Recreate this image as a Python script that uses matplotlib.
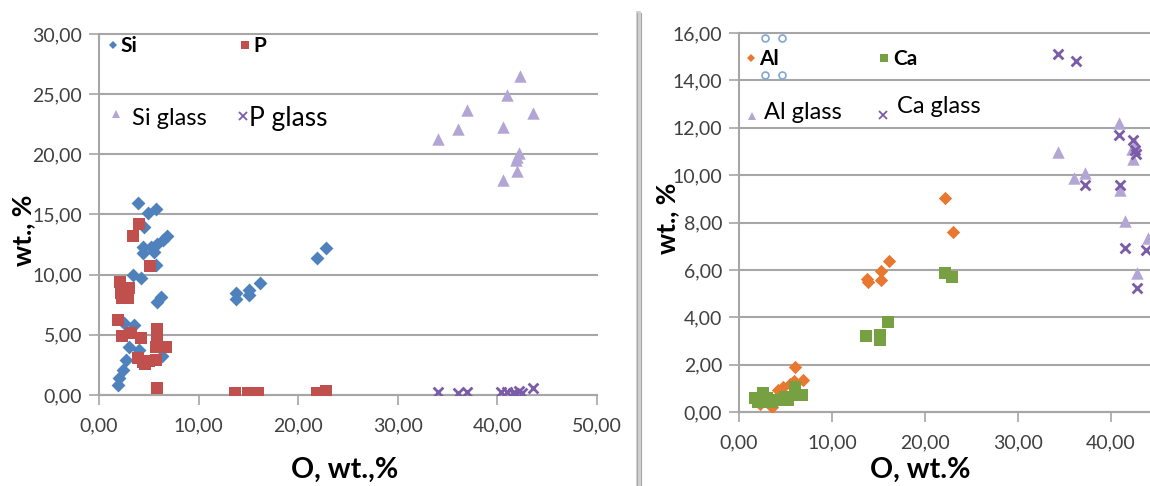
import matplotlib
matplotlib.use('Agg')
import matplotlib.pyplot as plt
from matplotlib.lines import Line2D

plt.rcParams['font.family'] = ['Lato', 'DejaVu Sans']

# ---------------- data (left panel) ----------------
si_x = [3.87, 4.87, 5.7, 4.5, 6.87, 6.4, 5.87, 5.2, 4.37, 4.37, 5.53, 5.7, 3.37, 4.2, 6.2, 5.8,
        2.53, 3.53, 3.03, 4.03, 2.7, 2.37, 2.03, 1.87, 6.37, 13.8, 13.8, 15.03, 15.03, 16.13, 21.93, 22.8]
si_y = [15.93, 15.1, 15.43, 14.0, 13.2, 12.9, 12.55, 12.3, 12.3, 11.8, 11.9, 10.8, 9.97, 9.7, 8.17, 7.76,
        5.96, 5.82, 4.0, 3.74, 2.9, 2.08, 1.38, 0.83, 3.2, 8.45, 7.95, 8.73, 8.3, 9.34, 11.36, 12.25]
p_x = [4.03, 3.43, 5.1, 2.13, 2.97, 2.2, 2.87, 2.3, 1.87, 2.27, 3.2, 4.2, 5.87, 5.8, 5.7, 6.7,
       3.87, 4.37, 5.03, 5.7, 4.6, 5.87, 13.7, 15.0, 15.5, 16.0, 21.9, 22.8]
p_y = [14.2, 13.2, 10.75, 9.42, 8.86, 8.5, 8.03, 8.1, 6.23, 4.9, 5.13, 4.71, 5.46, 4.7, 4.0, 4.0,
       3.05, 2.77, 2.85, 2.91, 2.6, 0.55, 0.14, 0.14, 0.14, 0.14, 0.2, 0.36]
si_glass_x = [42.3, 41.0, 36.9, 43.6, 36.0, 40.6, 34.0, 42.2, 41.97, 41.9, 41.97, 40.6]
si_glass_y = [26.5, 24.9, 23.7, 23.4, 22.1, 22.3, 21.25, 20.1, 19.8, 19.5, 18.6, 17.9]
p_glass_x = [34.0, 36.0, 36.9, 40.4, 41.0, 41.6, 42.2, 41.9, 42.5, 43.6]
p_glass_y = [0.22, 0.14, 0.27, 0.22, 0.25, 0.2, 0.3, 0.1, 0.2, 0.55]

# ---------------- data (right panel) ----------------
al_x = [22.15, 22.97, 16.16, 15.23, 13.8, 13.9, 15.23, 6.02, 6.85, 4.77, 4.2, 5.5, 3.5, 2.3, 5.9]
al_y = [9.02, 7.58, 6.39, 5.97, 5.6, 5.5, 5.57, 1.91, 1.35, 1.07, 0.93, 1.2, 0.22, 0.35, 1.3]
ca_x = [22.15, 22.87, 16.05, 13.7, 15.16, 15.16, 1.72, 2.6, 2.6, 3.5, 4.2, 4.9, 6.0, 6.0, 6.74, 5.3, 2.0, 3.0]
ca_y = [5.88, 5.68, 3.81, 3.21, 3.25, 3.05, 0.58, 0.79, 0.44, 0.44, 0.5, 0.65, 1.07, 0.73, 0.72, 0.5, 0.44, 0.6]
al_glass_x = [34.3, 36.05, 37.2, 40.9, 42.3, 42.4, 41.0, 41.5, 44.0, 42.8, 42.6]
al_glass_y = [10.99, 9.86, 10.07, 12.21, 11.1, 10.7, 9.37, 8.08, 7.34, 5.85, 11.3]
ca_glass_x = [34.3, 36.2, 37.2, 40.9, 42.4, 42.6, 42.7, 41.0, 41.5, 43.8, 42.8]
ca_glass_y = [15.1, 14.83, 9.58, 11.69, 11.48, 11.06, 10.9, 9.58, 6.91, 6.84, 5.22]

left_xticks = [0, 10, 20, 30, 40, 50]
left_yticks = [0, 5, 10, 15, 20, 25, 30]
right_xticks = [0, 10, 20, 30, 40]
right_yticks = [0, 2, 4, 6, 8, 10, 12, 14, 16]

# ---------------- colours ----------------
C_SI = '#4F81BD'
C_P = '#C0504D'
C_AL = '#E8782F'
C_CA = '#77A043'
C_TRI = '#B3A6D4'
C_X = '#7A5CA8'
GRID = '#A6A6A6'
TXT = '#404040'

W, H = 1150, 486
fig = plt.figure(figsize=(W / 100, H / 100), dpi=100)


def rect(x0, x1, yt, yb):
    return [x0 / W, (H - yb) / H, (x1 - x0) / W, (yb - yt) / H]


ax1 = fig.add_axes(rect(99, 597, 34, 395))
ax2 = fig.add_axes(rect(739, 1150, 33, 412))


def fmt(v):
    return f'{v:.2f}'.replace('.', ',')


def style(ax, xt, yt, xlim, ylim):
    ax.set_xlim(*xlim)
    ax.set_ylim(*ylim)
    ax.set_xticks(xt)
    ax.set_yticks(yt)
    ax.set_xticklabels([fmt(v) for v in xt])
    ax.set_yticklabels([fmt(v) for v in yt])
    ax.grid(axis='y', color=GRID, lw=1.5)
    ax.grid(axis='x', visible=False)
    ax.set_axisbelow(True)
    for s in ['top', 'right']:
        ax.spines[s].set_visible(False)
    for s in ['left', 'bottom']:
        ax.spines[s].set_color(GRID)
        ax.spines[s].set_linewidth(1.5)
    ax.tick_params(axis='both', color=GRID, width=1.2, length=7, labelsize=14,
                   labelcolor=TXT)
    ax.tick_params(axis='x', pad=9)
    ax.tick_params(axis='y', pad=5)
    for gl in ax.get_ygridlines():
        gl.set_clip_on(False)


style(ax1, left_xticks, left_yticks, (0, 50), (0, 30))
style(ax2, right_xticks, right_yticks, (0, (1150 - 739) / 9.3), (0, 16))

# ---------------- marks ----------------
ax1.scatter(si_x, si_y, marker='D', s=50, color=C_SI, linewidths=0, zorder=3)
ax1.scatter(p_x, p_y, marker='s', s=64, color=C_P, linewidths=0, zorder=4)
ax1.scatter(si_glass_x, si_glass_y, marker='^', s=80, color=C_TRI, linewidths=0, zorder=3)
ax1.scatter(p_glass_x, p_glass_y, marker='x', s=50, color=C_X, linewidths=2, zorder=4)

ax2.scatter(al_x, al_y, marker='D', s=46, color=C_AL, linewidths=0, zorder=3)
ax2.scatter(ca_x, ca_y, marker='s', s=64, color=C_CA, linewidths=0, zorder=4)
ax2.scatter(al_glass_x, al_glass_y, marker='^', s=80, color=C_TRI, linewidths=0, zorder=3)
ax2.scatter(ca_glass_x, ca_glass_y, marker='x', s=50, color=C_X, linewidths=2, zorder=4)

# ---------------- legend entries (Excel-style, separate) ----------------
def leg(ax, mx, my, marker, color, tx, ty, label, bold, size, box=False, ms=5):
    ax.plot([mx], [my], marker=marker, color=color, ms=ms, mew=1.3 if marker == 'x' else 0,
            ls='none', transform=ax.transAxes, clip_on=False, zorder=6)
    kw = dict(transform=ax.transAxes, ha='left', va='center', fontsize=size,
              fontweight='bold' if bold else 'normal', color='black', zorder=6)
    if box:
        kw['bbox'] = dict(fc='white', ec='none', pad=2)
    ax.text(tx, ty, label, **kw)


leg(ax1, 0.028, 0.970, 'D', C_SI, 0.044, 0.968, 'Si', True, 15, ms=4)
leg(ax1, 0.293, 0.970, 's', C_P, 0.309, 0.968, 'P', True, 15, ms=6)
leg(ax1, 0.034, 0.778, '^', C_TRI, 0.066, 0.767, 'Si glass', False, 17, ms=6)
leg(ax1, 0.289, 0.773, 'x', C_X, 0.301, 0.767, 'P glass', False, 19, ms=6)

leg(ax2, 0.029, 0.934, 'D', C_AL, 0.049, 0.932, 'Al', True, 15, ms=4)
leg(ax2, 0.353, 0.934, 's', C_CA, 0.375, 0.932, 'Ca', True, 15, ms=6)
leg(ax2, 0.031, 0.781, '^', C_TRI, 0.061, 0.790, 'Al glass', False, 17, box=True, ms=6)
leg(ax2, 0.350, 0.784, 'x', C_X, 0.384, 0.805, 'Ca glass', False, 17, box=True, ms=6)

# selection handles around "Al"
for hx, hy in [(765, 38), (782, 38), (765, 75), (782, 75)]:
    fig.add_artist(Line2D([hx / W], [1 - hy / H], marker='o', ms=5, mfc='white',
                          mec='#7FA8D2', mew=1.2, ls='none', transform=fig.transFigure))

# ---------------- axis titles ----------------
fig.text(23 / W, 1 - 230 / H, 'wt., %', rotation=90, ha='center', va='center',
         fontsize=19, fontweight='bold')
fig.text(345 / W, 1 - 470 / H, 'O, wt.,%', ha='center', va='center',
         fontsize=20.5, fontweight='bold')
fig.text(667 / W, 1 - 218 / H, 'wt., %', rotation=90, ha='center', va='center',
         fontsize=19, fontweight='bold')
fig.text(920 / W, 1 - 470 / H, 'O, wt.%', ha='center', va='center',
         fontsize=20.5, fontweight='bold')

# ---------------- separator between the two charts ----------------
fig.add_artist(Line2D([638.5 / W, 638.5 / W], [0, 1 - 13 / H], color='#D0D0D0', lw=3.5,
                      transform=fig.transFigure))
for sx in (636.5, 640.5):
    fig.add_artist(Line2D([sx / W, sx / W], [0, 1 - 13 / H], color='#A8A8A8', lw=0.8,
                          transform=fig.transFigure))

fig.savefig('out.png', dpi=100)
